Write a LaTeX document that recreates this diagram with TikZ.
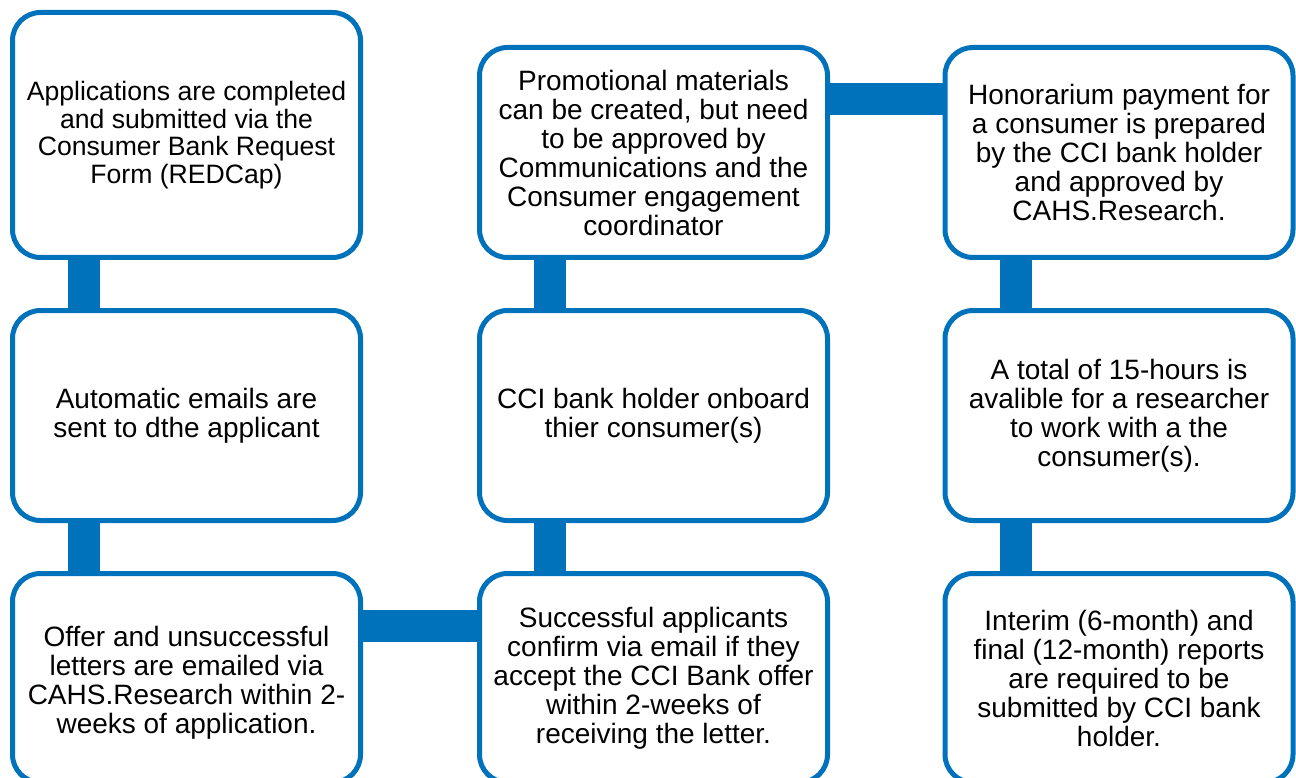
\documentclass[tikz,border=0pt]{standalone}
\usepackage{fontspec}
\setmainfont{Liberation Sans}
\definecolor{cblue}{RGB}{0,114,188}
\tikzset{
  box/.style={draw=cblue, fill=white, line width=5pt, rounded corners=28pt,
    rectangle, minimum width=348pt, inner sep=0pt, align=center,
    font=\fontsize{28}{29}\selectfont, text=black},
  bar/.style={draw=cblue, line width=32pt}
}
\begin{document}
\begin{tikzpicture}[x=1pt,y=1pt]
\useasboundingbox (0,0) rectangle (1296,-778);
\clip (0,0) rectangle (1296,-778);
\fill[white] (0,0) rectangle (1296,-778);
% column 1
\node[box, minimum height=245pt, font=\fontsize{26.6}{27.7}\selectfont] (a1) at (186.5,-135)
  {Applications are completed\\and submitted via the\\Consumer Bank Request\\Form (REDCap)};
\node[box, minimum height=210pt] (a2) at (186.5,-415.5)
  {Automatic emails are\\sent to dthe applicant};
\node[box, minimum height=209pt] (a3) at (186.5,-678)
  {\rule{0pt}{29pt}Offer and unsuccessful\\letters are emailed via\\CAHS.Research within 2-\\weeks of application.};
% column 2
\node[box, minimum height=210pt] (b1) at (653.5,-152.5)
  {Promotional materials\\can be created, but need\\to be approved by\\Communications and the\\Consumer engagement\\coordinator};
\node[box, minimum height=210pt] (b2) at (653.5,-415.5)
  {CCI bank holder onboard\\thier consumer(s)};
\node[box, minimum height=209pt] (b3) at (653.5,-678)
  {Successful applicants\\confirm via email if they\\accept the CCI Bank offer\\within 2-weeks of\\receiving the letter.};
% column 3
\node[box, minimum height=210pt] (c1) at (1119,-152.5)
  {Honorarium payment for\\a consumer is prepared\\by the CCI bank holder\\and approved by\\CAHS.Research.};
\node[box, minimum height=210pt] (c2) at (1119,-415.5)
  {A total of 15-hours is\\avalible for a researcher\\to work with a the\\consumer(s).};
\node[box, minimum height=209pt] (c3) at (1119,-678)
  {Interim (6-month) and\\final (12-month) reports\\are required to be\\submitted by CCI bank\\holder.};
% connectors
\draw[bar] ([xshift=74pt]a1.south west) -- ([xshift=74pt]a2.north west);
\draw[bar] ([xshift=74pt]a2.south west) -- ([xshift=74pt]a3.north west);
\draw[bar] ([yshift=-55pt]a3.north east) -- ([yshift=-55pt]b3.north west);
\draw[bar] ([xshift=73pt]b3.north west) -- ([xshift=73pt]b2.south west);
\draw[bar] ([xshift=73pt]b2.north west) -- ([xshift=73pt]b1.south west);
\draw[bar] ([yshift=-54pt]b1.north east) -- ([yshift=-54pt]c1.north west);
\draw[bar] ([xshift=73pt]c1.south west) -- ([xshift=73pt]c2.north west);
\draw[bar] ([xshift=73pt]c2.south west) -- ([xshift=73pt]c3.north west);
\end{tikzpicture}
\end{document}
